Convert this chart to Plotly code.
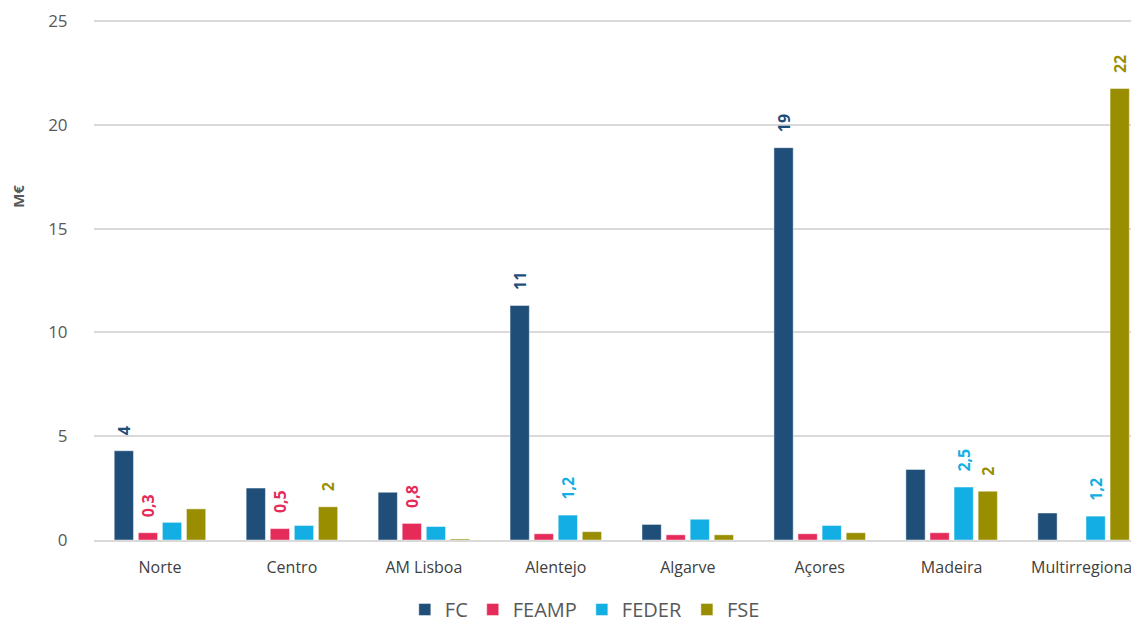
import plotly.graph_objects as go

regions = ["Norte", "Centro", "AM Lisboa", "Alentejo", "Algarve", "Açores", "Madeira", "Multirregional"]

fc = [4.3, 2.5, 2.3, 11.3, 0.75, 18.9, 3.4, 1.3]
feamp = [0.35, 0.55, 0.8, 0.3, 0.25, 0.3, 0.35, 0.0]
feder = [0.85, 0.7, 0.65, 1.2, 1.0, 0.7, 2.55, 1.15]
fse = [1.5, 1.6, 0.05, 0.4, 0.25, 0.35, 2.35, 21.75]

fc_labels = ["4", "", "", "11", "", "19", "", ""]
feamp_labels = ["0,3", "0,5", "0,8", "", "", "", "", ""]
feder_labels = ["", "", "", "1,2", "", "", "2,5", "1,2"]
fse_labels = ["", "2", "", "", "", "", "2", "22"]

series = [
    ("FC", fc, fc_labels, "#1F4E79"),
    ("FEAMP", feamp, feamp_labels, "#E52B5A"),
    ("FEDER", feder, feder_labels, "#13AEE3"),
    ("FSE", fse, fse_labels, "#998E00"),
]

pad = "\u00a0\u00a0\u00a0"

fig = go.Figure()
for name, vals, labels, color in series:
    fig.add_trace(go.Bar(
        x=regions, y=vals, name=name,
        marker=dict(color=color, line=dict(color="rgba(255,255,255,0.45)", width=1)),
        text=[pad + t if t else "" for t in labels],
        textposition="outside", textangle=-90, constraintext="none",
        cliponaxis=False,
        textfont=dict(family="Open Sans", size=16, color=color, weight="bold"),
    ))

# page body has an 8px margin, so the figure is drawn 8px smaller / shifted
fig.update_layout(
    width=1131, height=615,
    margin=dict(l=86, r=0, t=11, b=83),
    paper_bgcolor="white", plot_bgcolor="white",
    barmode="group", bargap=0.27, bargroupgap=0.2,
    font=dict(family="Open Sans", color="#595959"),
    showlegend=True,
    legend=dict(orientation="h", xref="container", x=0.51, xanchor="center",
                yref="container", y=0.022, yanchor="middle",
                font=dict(size=20, color="#595959"), itemwidth=30,
                traceorder="normal"),
    annotations=[dict(text="<b>M€</b>", xref="paper", yref="paper",
                      x=-0.073, y=0.66, xanchor="center", yanchor="middle",
                      textangle=-90, showarrow=False,
                      font=dict(size=15, color="#595959"))],
)
fig.update_xaxes(range=[-0.5, 7.42], showline=True, linecolor="#D9D9D9", linewidth=2,
                 tickfont=dict(size=16, color="#404040"), ticks="outside",
                 ticklen=12, tickcolor="rgba(0,0,0,0)")
fig.update_yaxes(range=[0, 25.1], dtick=5, showgrid=True,
                 gridcolor="#D9D9D9", gridwidth=1.5,
                 zeroline=False, tickfont=dict(size=17, color="#595959"),
                 ticks="outside", ticklen=22, tickcolor="rgba(0,0,0,0)")

fig.write_html("out.html")
